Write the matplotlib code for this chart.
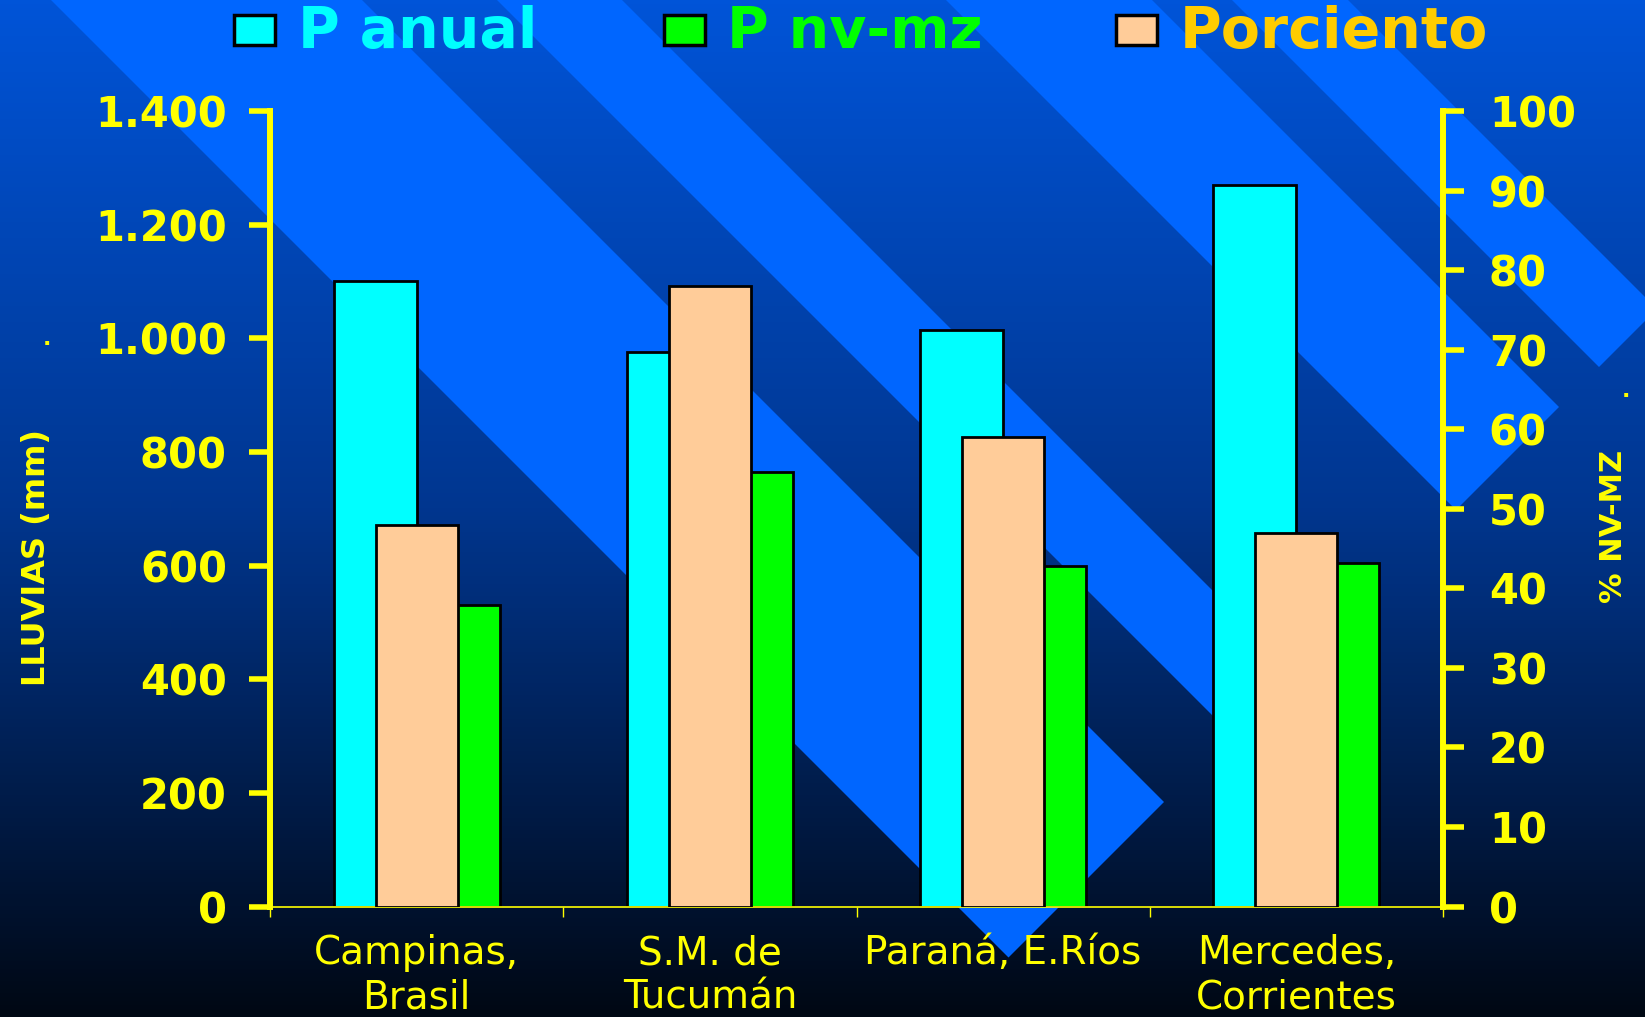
import numpy as np
import matplotlib.pyplot as plt
from matplotlib.colors import LinearSegmentedColormap
from matplotlib.patches import Polygon, Rectangle

plt.rcParams['font.family'] = 'DejaVu Sans'

# data
estaciones = ['Campinas,\nBrasil', 'S.M. de\nTucumán', 'Paraná, E.Ríos', 'Mercedes,\nCorrientes']
p_anual = [1100, 975, 1015, 1270]
p_nvmz = [530, 765, 600, 605]
porciento = [48, 78, 59, 47]
series = ['P anual', 'P nv-mz', 'Porciento']
lluvia_ticks = [0, 200, 400, 600, 800, 1000, 1200, 1400]
pct_ticks = [0, 10, 20, 30, 40, 50, 60, 70, 80, 90, 100]

amarillo = '#FFFF00'
c_anual, c_nvmz, c_pct = '#00FFFF', '#00FF00', '#FFCC99'

W, H = 1645, 1017
fig = plt.figure(figsize=(W / 100, H / 100), dpi=100)

# fondo: degradado azul + franjas diagonales
bg = fig.add_axes([0, 0, 1, 1], zorder=-10)
bg.set_xlim(0, W)
bg.set_ylim(H, 0)
bg.axis('off')
cmap = LinearSegmentedColormap.from_list('fondo', ['#0054D8', '#00368F', '#000814'])
grad = np.linspace(0, 1, 256).reshape(-1, 1)
bg.imshow(grad, cmap=cmap, extent=[0, W, H, 0], aspect='auto')
c = 1966
for a, b in [(-362, -51), (-622, -497), (-1152, -946), (-1348, -1232)]:
    xa, ya = (c - a) / 2, (c + a) / 2
    xb, yb = (c - b) / 2, (c + b) / 2
    bg.add_patch(Polygon([(xa, ya), (xb, yb), (xb - 2500, yb - 2500), (xa - 2500, ya - 2500)],
                         closed=True, color='#0066FF', lw=0))

ax = fig.add_axes([270 / W, 1 - 906.5 / H, (1443 - 270) / W, (906.5 - 111) / H])
ax.patch.set_alpha(0)

x = np.arange(len(estaciones))
w = 0.283
ax.bar(x - w / 2, p_anual, w, color=c_anual, edgecolor='black', lw=2)
ax.bar(x + w / 2, p_nvmz, w, color=c_nvmz, edgecolor='black', lw=2)
ax.set_xlim(-0.5, 3.5)
ax.set_ylim(0, 1400)

ax2 = ax.twinx()
ax2.bar(x, porciento, 0.28, color=c_pct, edgecolor='black', lw=2)
ax2.set_ylim(0, 100)

for a_ in (ax, ax2):
    for s in a_.spines.values():
        s.set_visible(False)
ax.spines['left'].set_visible(True)
ax.spines['left'].set_color(amarillo)
ax.spines['left'].set_linewidth(4.3)
ax.spines['bottom'].set_visible(True)
ax.spines['bottom'].set_color(amarillo)
ax.spines['bottom'].set_linewidth(1.2)
ax2.spines['right'].set_visible(True)
ax2.spines['right'].set_color(amarillo)
ax2.spines['right'].set_linewidth(4.3)

ax.set_yticks(lluvia_ticks, labels=[f'{v:,}'.replace(',', '.') for v in lluvia_ticks],
              fontsize=30, fontweight='bold', color=amarillo)
ax.tick_params(axis='y', color=amarillo, length=15, width=4, pad=16)
ax2.set_yticks(pct_ticks, labels=[str(v) for v in pct_ticks],
               fontsize=30, fontweight='bold', color=amarillo)
ax2.tick_params(axis='y', color=amarillo, length=15, width=4, pad=18)

ax.set_xticks([-0.5, 0.5, 1.5, 2.5, 3.5], labels=[''] * 5)
ax.tick_params(axis='x', which='major', color=amarillo, length=7, width=1)
ax.set_xticks(x, labels=estaciones, minor=True, fontsize=28, color=amarillo,
              multialignment='center', linespacing=1.2)
ax.tick_params(axis='x', which='minor', length=0, pad=20)

fig.text(37 / W, 1 - 557 / H, 'LLUVIAS (mm)', rotation=90, ha='center', va='center',
         fontsize=23, fontweight='bold', color=amarillo)
fig.text(1614 / W, 1 - 526 / H, '% NV-MZ', rotation=90, ha='center', va='center',
         fontsize=22, fontweight='bold', color=amarillo)
fig.text(47 / W, 1 - 345 / H, '.', ha='center', va='baseline', fontsize=16,
         fontweight='bold', color=amarillo)
fig.text(1626 / W, 1 - 397 / H, '.', ha='center', va='baseline', fontsize=16,
         fontweight='bold', color=amarillo)

# leyenda
sq_x = [234, 664, 1116]
txt_x = [298, 727, 1180]
fills = [c_anual, c_nvmz, c_pct]
txt_colors = [c_anual, c_nvmz, '#FFCC00']
for sx, tx, name, fc, tc in zip(sq_x, txt_x, series, fills, txt_colors):
    fig.add_artist(Rectangle((sx / W, 1 - 45 / H), 41 / W, 30 / H, transform=fig.transFigure,
                             facecolor=fc, edgecolor='black', lw=2.5))
    fig.text(tx / W, 1 - 48 / H, name, color=tc, fontsize=41, fontweight='bold',
             ha='left', va='baseline')

fig.savefig('out.png', dpi=100)
